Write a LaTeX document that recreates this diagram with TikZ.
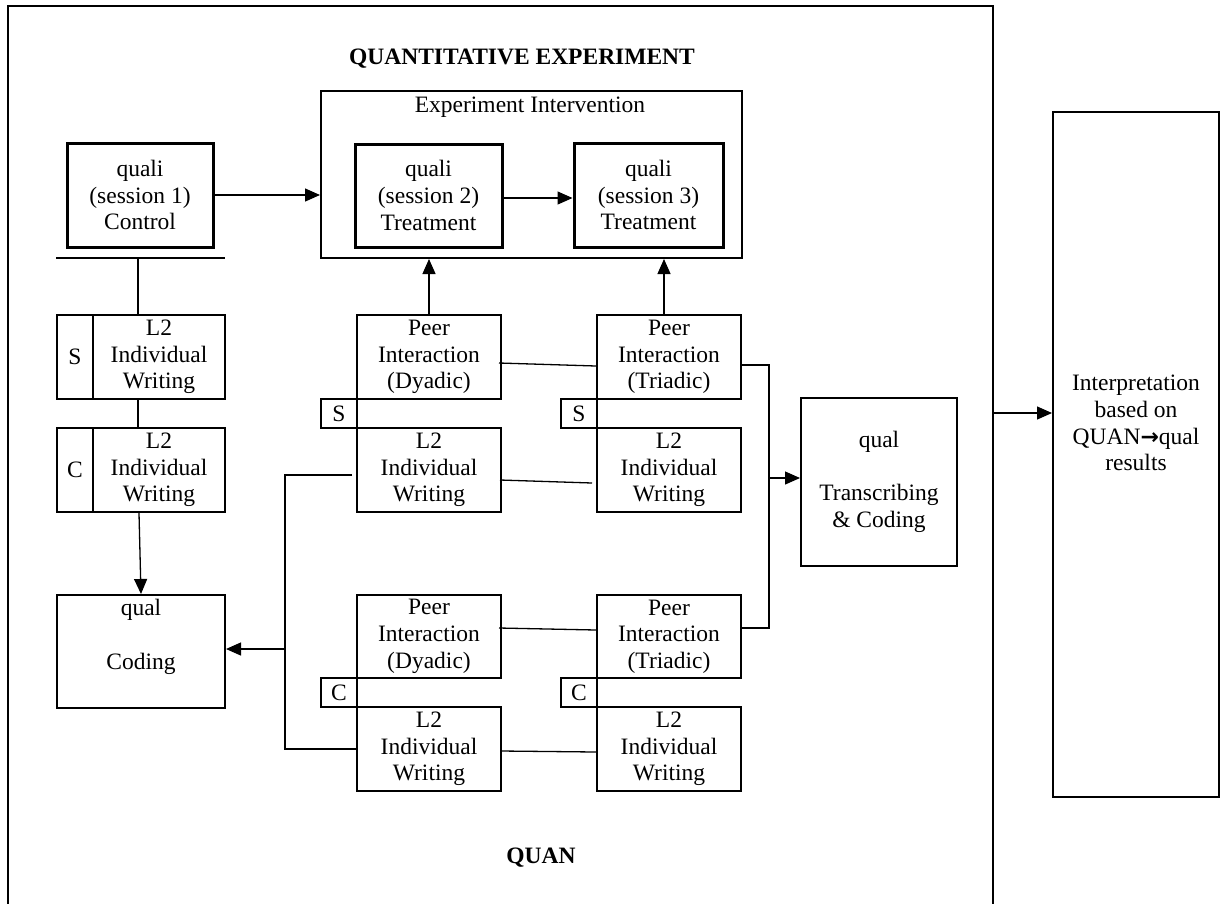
\documentclass[tikz,border=0pt]{standalone}
\usepackage{fontspec}
\setmainfont{Liberation Serif}
\newfontfamily\symfont{DejaVu Sans}
\usetikzlibrary{arrows.meta,calc}
\begin{document}
\begin{tikzpicture}[x=1pt,y=-1pt,
  every node/.style={font=\fontsize{23.5}{26.7}\selectfont},
  bx/.style={draw, line width=2pt, inner sep=0pt, align=center},
  tbx/.style={draw, line width=3pt, inner sep=0pt, align=center},
  txt/.style={inner sep=0pt, align=center},
  conn/.style={line width=1.3pt},
  arr/.style={line width=1.3pt, -{Triangle[length=15pt,width=13pt]}},
  heavy/.style={line width=2.5pt}]
\useasboundingbox (0,0) rectangle (1223,903);
% outer frame (bottom edge lies below the page)
\node[bx, line width=2.5pt, minimum width=985, minimum height=930] (outer) at (500.5,471) {};
\node[txt, font=\fontsize{23.5}{26.7}\selectfont\bfseries] (title) at (522,59) {QUANTITATIVE EXPERIMENT};
\node[txt, font=\fontsize{23.5}{26.7}\selectfont\bfseries] (quan) at (541,858) {QUAN};

% session boxes
\node[tbx, minimum width=146, minimum height=104] (s1) at (140,195) {quali\\(session 1)\\Control};
\node[bx, minimum width=421, minimum height=167] (ei) at (531.5,174.5) {};
\node[txt] (eitxt) at (530,107) {Experiment Intervention};
\node[tbx, minimum width=147, minimum height=103] (s2) at (428.5,195.5) {quali\\(session 2)\\Treatment};
\node[tbx, minimum width=149, minimum height=104] (s3) at (648.5,195) {quali\\(session 3)\\Treatment};

% left column
\node[bx, minimum width=36, minimum height=84] (lsS) at (75,357) {S};
\node[bx, minimum width=132, minimum height=84] (lsW) at (159,357) {L2\\Individual\\Writing};
\node[bx, minimum width=36, minimum height=84] (lcC) at (75,470) {C};
\node[bx, minimum width=132, minimum height=84] (lcW) at (159,470) {L2\\Individual\\Writing};
\node[bx, minimum width=168, minimum height=113] (coding) at (141,651.5) {};
\node[txt] (codingtxt) at (141,637) {qual\\[26.7pt]Coding};

% middle upper (S)
\node[bx, minimum width=144, minimum height=84] (pd1) at (429,357) {Peer\\Interaction\\(Dyadic)};
\node[bx, minimum width=36, minimum height=29] (sd1) at (339,413.5) {S};
\node[bx, minimum width=144, minimum height=84] (wd1) at (429,470) {L2\\Individual\\Writing};
\node[bx, minimum width=144, minimum height=84] (pt1) at (669,357) {Peer\\Interaction\\(Triadic)};
\node[bx, minimum width=36, minimum height=29] (st1) at (579,413.5) {S};
\node[bx, minimum width=144, minimum height=84] (wt1) at (669,470) {L2\\Individual\\Writing};

% middle lower (C)
\node[bx, minimum width=144, minimum height=83] (pd2) at (429,636.5) {Peer\\Interaction\\(Dyadic)};
\node[bx, minimum width=36, minimum height=29] (cd2) at (339,692.5) {C};
\node[bx, minimum width=144, minimum height=84] (wd2) at (429,749) {L2\\Individual\\Writing};
\node[bx, minimum width=144, minimum height=83] (pt2) at (669,636.5) {Peer\\Interaction\\(Triadic)};
\node[bx, minimum width=36, minimum height=29] (ct2) at (579,692.5) {C};
\node[bx, minimum width=144, minimum height=84] (wt2) at (669,749) {L2\\Individual\\Writing};

% transcribing and interpretation
\node[bx, minimum width=156, minimum height=168] (trans) at (879,482) {qual\\[26.7pt]Transcribing\\\& Coding};
\node[bx, minimum width=166, minimum height=685] (rb) at (1136,454.5) {};
\node[txt] (interp) at (1136,423) {Interpretation\\based on\\QUAN{\symfont\bfseries\fontsize{22}{22}\selectfont→}qual\\results};

% helper coordinates
\coordinate (hl1) at (56,258);
\coordinate (hl2) at (225,258);
\coordinate (hlm) at (138,258);
\coordinate (busTop) at (769,365);
\coordinate (busBot) at (769,628);
\coordinate (busMid) at (769,478);
\coordinate (loopTop) at (285,475);
\coordinate (loopBot) at (285,749);
\coordinate (loopMid) at (285,649);
\coordinate (outY) at (1000,413);

% connectors
\draw[arr] (s1.east) -- (s1.east -| ei.west);
\draw[arr] ($(s2.east)+(0,2.5)$) -- ($(s2.east -| s3.west)+(0,2.5)$);
\draw[heavy] (hl1) -- (hl2);
\draw[conn] (hlm) -- (hlm |- lsW.north);
\draw[conn] (hlm |- lsW.south) -- (hlm |- lcW.north);
\draw[arr] (lcW.south -| 139,0) -- (coding.north);
\draw[arr] (pd1.north) -- (pd1.north |- ei.south);
\draw[arr] (pt1.north -| 664,0) -- (ei.south -| 664,0);
\draw[conn] ($(pd1.east)+(-3,6)$) -- ($(pt1.west)+(0,9)$);
\draw[conn] ($(wd1.east)+(-2,10)$) -- ($(wt1.west)+(-4,13)$);
\draw[conn] ($(pd2.east)+(-3,-8.5)$) -- ($(pt2.west)+(0,-6.5)$);
\draw[conn] ($(wd2.east)+(-1,2)$) -- ($(wt2.west)+(0,3)$);
\draw[conn] (pt1.east |- busTop) -- (busTop) -- (busBot) -- (pt2.east |- busBot);
\draw[arr] (busMid) -- (busMid -| trans.west);
\draw[conn] ($(wd1.west |- loopTop)+(-4,0)$) -- (loopTop) -- (loopBot) -- (wd2.west |- loopBot);
\draw[arr] (loopMid) -- (loopMid -| coding.east);
\draw[arr] (outY -| outer.east) -- (outY -| rb.west);
\end{tikzpicture}
\end{document}
